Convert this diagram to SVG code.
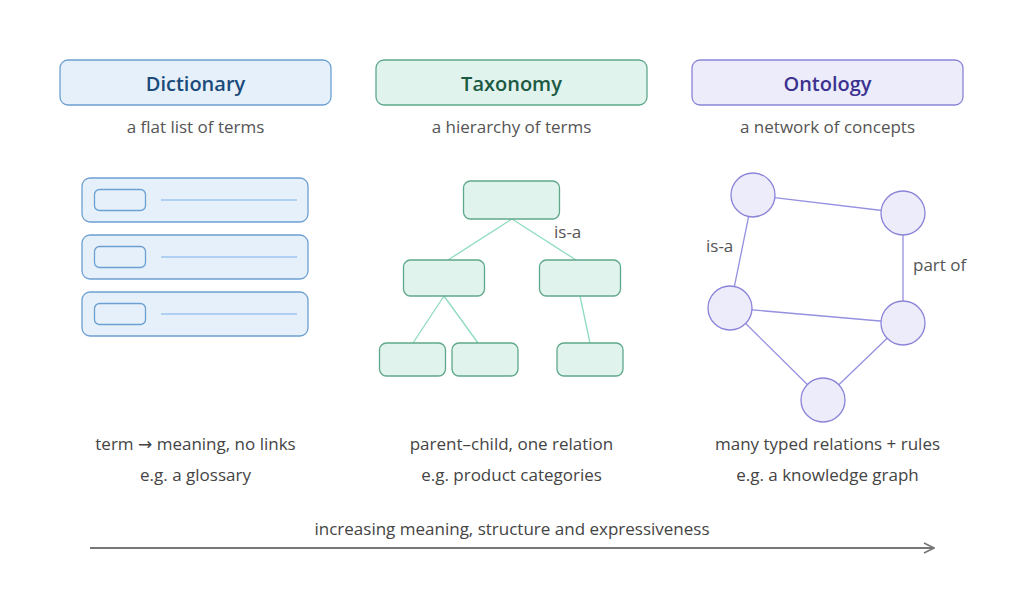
<svg xmlns="http://www.w3.org/2000/svg" width="1024" height="602" viewBox="0 0 1024 602">
<defs>
<style>
text{font-family:"Open Sans","Noto Sans","DejaVu Sans",sans-serif;text-anchor:middle}
.title{font-size:20px;font-weight:600}
.sub{font-size:17px;fill:#555}
.note{font-size:17px;fill:#444}
.lbl{font-size:17px;fill:#555;text-anchor:start}
.dict{fill:#e6f0fa;stroke:#6c9fd2;stroke-width:1.3}
.tax{fill:#e0f3ec;stroke:#5fa88a;stroke-width:1.3}
.ont{fill:#ececfb;stroke:#8a84d8;stroke-width:1.3}
.tline{stroke:#8edbc0;stroke-width:1.3;fill:none}
.oline{stroke:#9590e0;stroke-width:1.3;fill:none}
.dline{stroke:#9cc6ee;stroke-width:1.3}
</style>
<marker id="arr" viewBox="0 0 12 12" refX="11" refY="6" markerWidth="12" markerHeight="12" markerUnits="userSpaceOnUse" orient="auto">
<path d="M1,1 L11,6 L1,11" fill="none" stroke="#777" stroke-width="1.6"/>
</marker>
</defs>
<rect width="1024" height="602" fill="#fff"/>

<g id="dictionary-header">
<rect class="dict" x="60" y="60" width="271" height="45" rx="8"/>
<text class="title" x="195.5" y="91" fill="#1a4a7a">Dictionary</text>
<text class="sub" x="195.5" y="133">a flat list of terms</text>
</g>
<g id="taxonomy-header">
<rect class="tax" x="376" y="60" width="271" height="45" rx="8"/>
<text class="title" x="511.5" y="91" fill="#1b5a42">Taxonomy</text>
<text class="sub" x="511.5" y="133">a hierarchy of terms</text>
</g>
<g id="ontology-header">
<rect class="ont" x="692" y="60" width="271" height="45" rx="8"/>
<text class="title" x="827.5" y="91" fill="#3b3290">Ontology</text>
<text class="sub" x="827.5" y="133">a network of concepts</text>
</g>

<g id="dict-row-1">
<rect class="dict" x="82" y="178" width="226" height="44" rx="8"/>
<rect class="dict" x="94.5" y="189.5" width="51" height="21" rx="5"/>
<line class="dline" x1="161" y1="200" x2="297" y2="200"/>
</g>
<g id="dict-row-2">
<rect class="dict" x="82" y="235" width="226" height="44" rx="8"/>
<rect class="dict" x="94.5" y="246.5" width="51" height="21" rx="5"/>
<line class="dline" x1="161" y1="257" x2="297" y2="257"/>
</g>
<g id="dict-row-3">
<rect class="dict" x="82" y="292" width="226" height="44" rx="8"/>
<rect class="dict" x="94.5" y="303.5" width="51" height="21" rx="5"/>
<line class="dline" x1="161" y1="314" x2="297" y2="314"/>
</g>

<g id="connectors">
<line class="tline" x1="512" y1="219" x2="448" y2="260"/>
<line class="tline" x1="512" y1="219" x2="576" y2="260"/>
<line class="tline" x1="444" y1="296" x2="413" y2="343"/>
<line class="tline" x1="444" y1="296" x2="478" y2="343"/>
<line class="tline" x1="580" y1="296" x2="590" y2="343"/>
<text class="lbl" x="554" y="238">is-a</text>
<line class="oline" x1="753" y1="195" x2="903" y2="213"/>
<line class="oline" x1="753" y1="195" x2="730" y2="308"/>
<line class="oline" x1="903" y1="213" x2="903" y2="323"/>
<line class="oline" x1="730" y1="308" x2="903" y2="323"/>
<line class="oline" x1="730" y1="308" x2="823" y2="400"/>
<line class="oline" x1="903" y1="323" x2="823" y2="400"/>
<text class="lbl" x="706" y="252">is-a</text>
<text class="lbl" x="913" y="271">part of</text>
<line x1="90" y1="548" x2="934" y2="548" stroke="#777" stroke-width="2" marker-end="url(#arr)"/>
</g>

<g id="tax-root"><rect class="tax" x="463.5" y="181" width="96" height="38" rx="7"/></g>
<g id="tax-mid-left"><rect class="tax" x="403.5" y="260" width="81" height="36" rx="7"/></g>
<g id="tax-mid-right"><rect class="tax" x="539.5" y="260" width="81" height="36" rx="7"/></g>
<g id="tax-leaf-1"><rect class="tax" x="379.5" y="343" width="66" height="33" rx="7"/></g>
<g id="tax-leaf-2"><rect class="tax" x="452" y="343" width="66" height="33" rx="7"/></g>
<g id="tax-leaf-3"><rect class="tax" x="557" y="343" width="66" height="33" rx="7"/></g>

<g id="ont-c1"><circle class="ont" cx="753" cy="195" r="22"/></g>
<g id="ont-c2"><circle class="ont" cx="903" cy="213" r="22"/></g>
<g id="ont-c3"><circle class="ont" cx="730" cy="308" r="22"/></g>
<g id="ont-c4"><circle class="ont" cx="903" cy="323" r="22"/></g>
<g id="ont-c5"><circle class="ont" cx="823" cy="400" r="22"/></g>

<g id="notes">
<text class="note" x="195.5" y="450">term → meaning, no links</text>
<text class="note" x="195.5" y="481">e.g. a glossary</text>
<text class="note" x="511.5" y="450">parent–child, one relation</text>
<text class="note" x="511.5" y="481">e.g. product categories</text>
<text class="note" x="827.5" y="450">many typed relations + rules</text>
<text class="note" x="827.5" y="481">e.g. a knowledge graph</text>
<text class="note" x="512" y="535">increasing meaning, structure and expressiveness</text>
</g>
</svg>
